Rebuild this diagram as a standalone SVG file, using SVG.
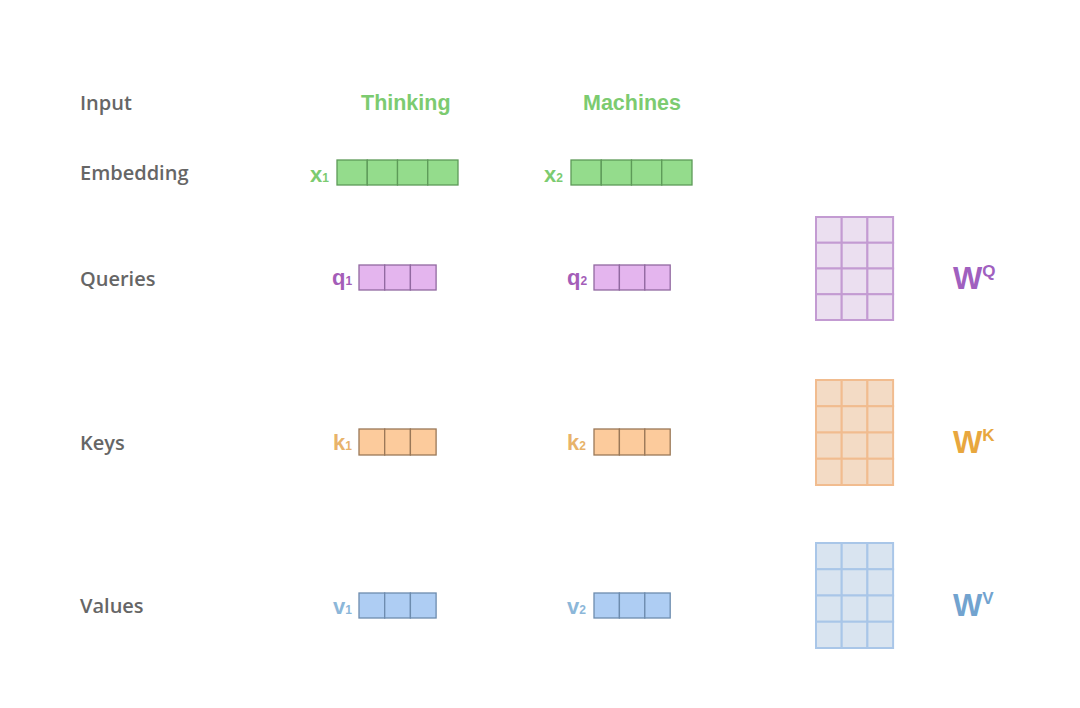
<svg xmlns="http://www.w3.org/2000/svg" width="1080" height="708" viewBox="0 0 1080 708">
<style>
.lbl{font-family:"Open Sans","Liberation Sans",sans-serif;font-size:20px;font-weight:600;fill:#666;}
.word{font-family:"Liberation Sans",Arial,sans-serif;font-size:21.5px;font-weight:bold;fill:#7ccb70;}
.vn{font-family:"Liberation Sans",Arial,sans-serif;font-weight:bold;font-size:22px;}
.sub{font-size:12px;}
.w{font-family:"Liberation Sans",Arial,sans-serif;font-weight:bold;font-size:31px;}
.wsup{font-size:17px;}
.g rect{fill:#94dc8c;stroke:#5d9a58;stroke-width:1.3;}
.q rect{fill:#e4b5ee;stroke:#9169a0;stroke-width:1.3;}
.k rect{fill:#fccb9c;stroke:#9a7858;stroke-width:1.3;}
.v rect{fill:#aecdf3;stroke:#6d8cae;stroke-width:1.3;}
.mq rect{fill:#ebdff0;stroke:#c39bd2;stroke-width:2;}
.mk rect{fill:#f3dbc5;stroke:#f1bc8f;stroke-width:2;}
.mv rect{fill:#d9e4f0;stroke:#a9c6e8;stroke-width:2;}
</style>
<rect width="1080" height="708" fill="#fff"/>
<g id="row-labels">
<text class="lbl" x="80" y="110">Input</text>
<text class="lbl" x="80" y="180">Embedding</text>
<text class="lbl" x="80" y="286">Queries</text>
<text class="lbl" x="80" y="450">Keys</text>
<text class="lbl" x="80" y="613">Values</text>
</g>
<g id="input-thinking"><text class="word" x="361" y="110">Thinking</text></g>
<g id="input-machines"><text class="word" x="583" y="110">Machines</text></g>
<g id="x1">
<text class="vn" x="310" y="182" fill="#7ccb70">x<tspan class="sub">1</tspan></text>
<g class="g"><rect x="337" y="160" width="30.25" height="25"/><rect x="367.25" y="160" width="30.25" height="25"/><rect x="397.5" y="160" width="30.25" height="25"/><rect x="427.75" y="160" width="30.25" height="25"/></g>
</g>
<g id="x2">
<text class="vn" x="544" y="182" fill="#7ccb70">x<tspan class="sub">2</tspan></text>
<g class="g"><rect x="571" y="160" width="30.25" height="25"/><rect x="601.25" y="160" width="30.25" height="25"/><rect x="631.5" y="160" width="30.25" height="25"/><rect x="661.75" y="160" width="30.25" height="25"/></g>
</g>
<g id="q1">
<text class="vn" x="332" y="285" fill="#a45db8">q<tspan class="sub">1</tspan></text>
<g class="q"><rect x="359" y="265" width="25.7" height="25"/><rect x="384.7" y="265" width="25.7" height="25"/><rect x="410.4" y="265" width="25.7" height="25"/></g>
</g>
<g id="q2">
<text class="vn" x="567" y="285" fill="#a45db8">q<tspan class="sub">2</tspan></text>
<g class="q"><rect x="594" y="265" width="25.4" height="25"/><rect x="619.4" y="265" width="25.4" height="25"/><rect x="644.8" y="265" width="25.4" height="25"/></g>
</g>
<g id="k1">
<text class="vn" x="333" y="450" fill="#e8b36a">k<tspan class="sub">1</tspan></text>
<g class="k"><rect x="359" y="429" width="25.7" height="26"/><rect x="384.7" y="429" width="25.7" height="26"/><rect x="410.4" y="429" width="25.7" height="26"/></g>
</g>
<g id="k2">
<text class="vn" x="567" y="450" fill="#e8b36a">k<tspan class="sub">2</tspan></text>
<g class="k"><rect x="594" y="429" width="25.4" height="26"/><rect x="619.4" y="429" width="25.4" height="26"/><rect x="644.8" y="429" width="25.4" height="26"/></g>
</g>
<g id="v1">
<text class="vn" x="333" y="614" fill="#8cb7d9">v<tspan class="sub">1</tspan></text>
<g class="v"><rect x="359" y="593" width="25.7" height="25"/><rect x="384.7" y="593" width="25.7" height="25"/><rect x="410.4" y="593" width="25.7" height="25"/></g>
</g>
<g id="v2">
<text class="vn" x="567" y="614" fill="#8cb7d9">v<tspan class="sub">2</tspan></text>
<g class="v"><rect x="594" y="593" width="25.4" height="25"/><rect x="619.4" y="593" width="25.4" height="25"/><rect x="644.8" y="593" width="25.4" height="25"/></g>
</g>
<g id="WQ">
<g class="mq">
<rect x="816" y="217" width="25.7" height="25.75"/><rect x="841.7" y="217" width="25.7" height="25.75"/><rect x="867.4" y="217" width="25.7" height="25.75"/>
<rect x="816" y="242.75" width="25.7" height="25.75"/><rect x="841.7" y="242.75" width="25.7" height="25.75"/><rect x="867.4" y="242.75" width="25.7" height="25.75"/>
<rect x="816" y="268.5" width="25.7" height="25.75"/><rect x="841.7" y="268.5" width="25.7" height="25.75"/><rect x="867.4" y="268.5" width="25.7" height="25.75"/>
<rect x="816" y="294.25" width="25.7" height="25.75"/><rect x="841.7" y="294.25" width="25.7" height="25.75"/><rect x="867.4" y="294.25" width="25.7" height="25.75"/>
</g>
<text class="w" x="953" y="289" fill="#a060bf">W<tspan class="wsup" dy="-12">Q</tspan></text>
</g>
<g id="WK">
<g class="mk">
<rect x="816" y="380" width="25.7" height="26.25"/><rect x="841.7" y="380" width="25.7" height="26.25"/><rect x="867.4" y="380" width="25.7" height="26.25"/>
<rect x="816" y="406.25" width="25.7" height="26.25"/><rect x="841.7" y="406.25" width="25.7" height="26.25"/><rect x="867.4" y="406.25" width="25.7" height="26.25"/>
<rect x="816" y="432.5" width="25.7" height="26.25"/><rect x="841.7" y="432.5" width="25.7" height="26.25"/><rect x="867.4" y="432.5" width="25.7" height="26.25"/>
<rect x="816" y="458.75" width="25.7" height="26.25"/><rect x="841.7" y="458.75" width="25.7" height="26.25"/><rect x="867.4" y="458.75" width="25.7" height="26.25"/>
</g>
<text class="w" x="953" y="453" fill="#e8a73e">W<tspan class="wsup" dy="-12">K</tspan></text>
</g>
<g id="WV">
<g class="mv">
<rect x="816" y="543" width="25.7" height="26.25"/><rect x="841.7" y="543" width="25.7" height="26.25"/><rect x="867.4" y="543" width="25.7" height="26.25"/>
<rect x="816" y="569.25" width="25.7" height="26.25"/><rect x="841.7" y="569.25" width="25.7" height="26.25"/><rect x="867.4" y="569.25" width="25.7" height="26.25"/>
<rect x="816" y="595.5" width="25.7" height="26.25"/><rect x="841.7" y="595.5" width="25.7" height="26.25"/><rect x="867.4" y="595.5" width="25.7" height="26.25"/>
<rect x="816" y="621.75" width="25.7" height="26.25"/><rect x="841.7" y="621.75" width="25.7" height="26.25"/><rect x="867.4" y="621.75" width="25.7" height="26.25"/>
</g>
<text class="w" x="953" y="616" fill="#72a3cf">W<tspan class="wsup" dy="-12">V</tspan></text>
</g>
<g id="connectors"></g>
</svg>
